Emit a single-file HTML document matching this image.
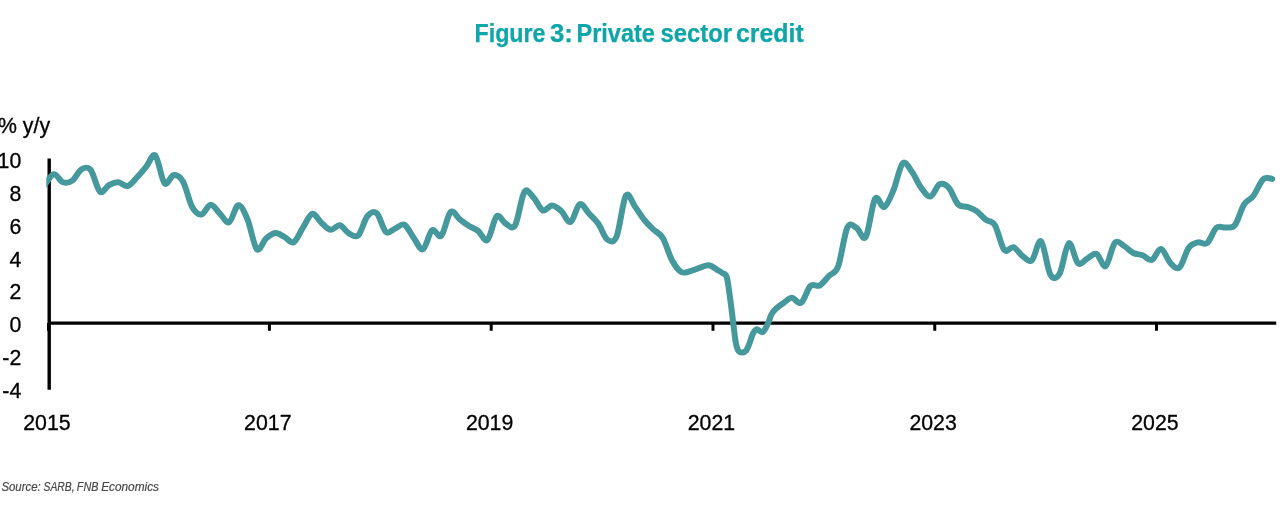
<!DOCTYPE html>
<html lang="en"><head><meta charset="utf-8"><title>Figure 3: Private sector credit</title>
<style>
html,body{margin:0;padding:0;background:#fff;}
body{width:1280px;height:520px;overflow:hidden;position:relative;font-family:"Liberation Sans",Arial,sans-serif;}
svg{position:absolute;left:0;top:0;display:block}
.title{font-weight:bold;font-size:25px;fill:#0fa6aa;stroke:#0fa6aa;stroke-width:0.25px}
.ax text{font-size:21.3px;fill:#000;stroke:#000;stroke-width:0.3px}
.src{font-style:italic;font-size:12.2px;fill:#484848;stroke:#484848;stroke-width:0.2px}
</style></head><body>
<svg width="1280" height="520" viewBox="0 0 1280 520">
<defs><clipPath id="cp"><rect x="46.3" y="140" width="1234" height="240"/></clipPath></defs>
<text class="title" y="41.6"><tspan x="474.50" textLength="71.00" lengthAdjust="spacingAndGlyphs">Figure</tspan> <tspan x="549.90" textLength="22.90" lengthAdjust="spacingAndGlyphs">3:</tspan> <tspan x="576.50" textLength="78.40" lengthAdjust="spacingAndGlyphs">Private</tspan> <tspan x="660.40" textLength="71.60" lengthAdjust="spacingAndGlyphs">sector</tspan> <tspan x="736.00" textLength="67.80" lengthAdjust="spacingAndGlyphs">credit</tspan></text>
<g class="ax">
<text x="-2" y="133.2">% y/y</text>
<text x="21.3" y="168.0" text-anchor="end">10</text><text x="21.3" y="200.8" text-anchor="end">8</text><text x="21.3" y="233.6" text-anchor="end">6</text><text x="21.3" y="266.5" text-anchor="end">4</text><text x="21.3" y="299.3" text-anchor="end">2</text><text x="21.3" y="332.1" text-anchor="end">0</text><text x="21.3" y="364.9" text-anchor="end">-2</text><text x="21.3" y="397.7" text-anchor="end">-4</text>
<text x="46.9" y="430" text-anchor="middle">2015</text><text x="267.8" y="430" text-anchor="middle">2017</text><text x="489.6" y="430" text-anchor="middle">2019</text><text x="711.4" y="430" text-anchor="middle">2021</text><text x="933.1" y="430" text-anchor="middle">2023</text><text x="1154.9" y="430" text-anchor="middle">2025</text>
</g>
<path d="M49.2 160.2V388.15M49.2 323.1H1274.5" stroke="#000" stroke-width="3.4" stroke-linecap="square" fill="none"/>
<rect x="47" y="323" width="2" height="7.8" fill="#000"/>
<path d="M269.40 323V330.8M491.20 323V330.8M713.00 323V330.8M934.75 323V330.8M1156.50 323V330.8" stroke="#000" stroke-width="3" fill="none"/>
<g clip-path="url(#cp)"><path d="M44.57 185.00C47.65 181.40 50.72 174.66 53.80 174.20C56.88 173.74 59.95 181.18 63.03 182.25C66.10 183.32 69.18 182.76 72.25 180.60C75.33 178.44 78.41 171.07 81.48 169.30C84.56 167.53 87.63 166.28 90.71 170.00C93.78 173.72 96.86 189.10 99.94 191.60C103.01 194.10 106.09 186.56 109.16 185.00C112.24 183.44 115.31 182.08 118.39 182.25C121.46 182.42 124.54 186.79 127.62 186.00C130.69 185.21 133.77 180.68 136.84 177.50C139.92 174.32 142.99 170.58 146.07 166.90C149.15 163.22 152.22 152.68 155.30 155.40C158.37 158.12 161.45 179.92 164.52 183.20C167.60 186.48 170.68 175.38 173.75 175.10C176.83 174.82 179.90 176.18 182.98 181.50C186.05 186.82 189.13 201.50 192.20 207.00C195.28 212.50 198.36 214.88 201.43 214.50C204.51 214.12 207.58 204.85 210.66 204.70C213.73 204.55 216.81 210.68 219.89 213.60C222.96 216.52 226.04 223.58 229.11 222.20C232.19 220.82 235.26 205.75 238.34 205.30C241.42 204.85 244.49 212.20 247.57 219.50C250.64 226.80 253.72 245.92 256.79 249.10C259.87 252.28 262.95 241.27 266.02 238.60C269.10 235.93 272.17 233.38 275.25 233.10C278.32 232.82 281.40 235.37 284.48 236.90C287.55 238.43 290.63 243.83 293.70 242.30C296.78 240.77 299.85 232.45 302.93 227.70C306.00 222.95 309.08 214.63 312.16 213.80C315.23 212.97 318.31 220.03 321.38 222.70C324.46 225.37 327.53 229.37 330.61 229.80C333.69 230.23 336.76 224.68 339.84 225.30C342.91 225.92 345.99 231.83 349.06 233.50C352.14 235.17 355.22 238.22 358.29 235.30C361.37 232.38 364.44 219.67 367.52 216.00C370.59 212.33 373.67 210.63 376.75 213.30C379.82 215.97 382.90 229.47 385.97 232.00C389.05 234.53 392.12 229.72 395.20 228.50C398.27 227.28 401.35 223.17 404.43 224.70C407.50 226.23 410.58 233.60 413.65 237.70C416.73 241.80 419.80 250.55 422.88 249.30C425.96 248.05 429.03 232.47 432.11 230.20C435.18 227.93 438.26 238.72 441.33 235.70C444.41 232.68 447.49 214.83 450.56 212.10C453.64 209.37 456.71 216.98 459.79 219.30C462.86 221.62 465.94 224.05 469.02 226.00C472.09 227.95 475.17 228.68 478.24 231.00C481.32 233.32 484.39 242.35 487.47 239.90C490.54 237.45 493.62 218.98 496.70 216.30C499.77 213.62 502.85 222.32 505.92 223.80C509.00 225.28 512.07 230.50 515.15 225.20C518.23 219.90 521.30 196.60 524.38 192.00C527.45 187.40 530.53 194.53 533.60 197.60C536.68 200.67 539.76 209.08 542.83 210.40C545.91 211.72 548.98 205.40 552.06 205.50C555.13 205.60 558.21 208.25 561.28 211.00C564.36 213.75 567.44 223.13 570.51 222.00C573.59 220.87 576.66 205.62 579.74 204.20C582.81 202.78 585.89 210.27 588.97 213.50C592.04 216.73 595.12 219.25 598.19 223.60C601.27 227.95 604.34 237.48 607.42 239.60C610.50 241.72 613.57 243.62 616.65 236.30C619.72 228.98 622.80 200.62 625.87 195.70C628.95 190.78 632.03 202.75 635.10 206.80C638.18 210.85 641.25 216.20 644.33 220.00C647.40 223.80 650.48 226.60 653.55 229.60C656.63 232.60 659.71 232.88 662.78 238.00C665.86 243.12 668.93 254.63 672.01 260.30C675.08 265.97 678.16 270.20 681.24 272.00C684.31 273.80 687.39 271.80 690.46 271.10C693.54 270.40 696.61 268.77 699.69 267.80C702.77 266.83 705.84 264.88 708.92 265.30C711.99 265.72 715.07 268.54 718.14 270.30C719.66 271.17 721.18 271.93 722.70 273.20C724.10 274.37 725.50 272.64 726.90 277.60C728.07 281.74 729.23 292.13 730.40 300.50C731.37 307.43 732.33 315.93 733.30 323.50C734.13 330.03 734.97 338.07 735.80 342.80C736.53 346.97 737.27 349.00 738.00 350.20C739.27 352.27 740.53 352.50 741.80 352.60C743.20 352.71 744.60 352.42 746.00 350.80C747.10 349.52 748.20 346.63 749.30 343.90C750.40 341.17 751.50 336.69 752.60 334.40C753.83 331.83 755.07 329.59 756.30 329.30C758.47 328.79 760.63 333.08 762.80 332.00C764.50 331.15 766.20 326.96 767.90 323.50C769.17 320.92 770.43 316.15 771.70 313.90C773.30 311.05 774.90 309.67 776.50 308.20C779.07 305.84 781.63 304.14 784.20 302.40C786.73 300.68 789.27 297.74 791.80 297.80C794.93 297.87 798.06 304.78 801.19 302.80C804.26 300.85 807.34 288.88 810.41 286.00C813.49 283.12 816.57 287.17 819.64 285.50C822.72 283.83 825.79 279.17 828.87 276.00C831.94 272.83 835.02 274.57 838.10 266.50C841.17 258.43 844.25 234.02 847.32 227.60C850.40 221.18 853.47 226.45 856.55 228.00C859.62 229.55 862.70 241.77 865.78 236.90C868.85 232.03 871.93 203.77 875.00 198.80C878.08 193.83 881.15 208.53 884.23 207.10C887.31 205.67 890.38 197.48 893.46 190.20C896.53 182.92 899.61 166.47 902.68 163.40C905.76 160.33 908.84 167.75 911.91 171.80C914.99 175.85 918.06 183.58 921.14 187.70C924.21 191.82 927.29 197.07 930.37 196.50C933.44 195.93 936.52 185.75 939.59 184.30C942.67 182.85 945.74 184.45 948.82 187.80C951.89 191.15 954.97 201.22 958.05 204.40C961.12 207.58 964.20 205.78 967.27 206.90C970.35 208.02 973.42 208.98 976.50 211.10C979.58 213.22 982.65 217.25 985.73 219.60C988.80 221.95 991.88 220.15 994.95 225.20C998.03 230.25 1001.11 246.23 1004.18 249.90C1007.26 253.57 1010.33 246.17 1013.41 247.20C1016.48 248.23 1019.56 253.92 1022.63 256.10C1025.71 258.28 1028.79 262.77 1031.86 260.30C1034.94 257.83 1038.01 238.93 1041.09 241.30C1044.16 243.67 1047.24 269.08 1050.32 274.50C1053.39 279.92 1056.47 279.00 1059.54 273.80C1062.62 268.60 1065.69 245.05 1068.77 243.30C1071.85 241.55 1074.92 260.75 1078.00 263.30C1081.07 265.85 1084.15 260.17 1087.22 258.60C1090.30 257.03 1093.38 252.65 1096.45 253.90C1099.53 255.15 1102.60 267.97 1105.68 266.10C1108.75 264.23 1111.83 246.05 1114.90 242.70C1117.98 239.35 1121.06 244.28 1124.13 246.00C1127.21 247.72 1130.28 251.45 1133.36 253.00C1136.43 254.55 1139.51 254.15 1142.59 255.30C1145.66 256.45 1148.74 260.97 1151.81 259.90C1154.89 258.83 1157.96 248.42 1161.04 248.90C1164.12 249.38 1167.19 259.70 1170.27 262.80C1173.34 265.90 1176.42 270.02 1179.49 267.50C1182.57 264.98 1185.65 251.88 1188.72 247.70C1191.80 243.52 1194.87 243.18 1197.95 242.40C1201.02 241.62 1204.10 245.43 1207.17 243.00C1210.25 240.57 1213.33 230.38 1216.40 227.80C1219.48 225.22 1222.55 227.93 1225.63 227.50C1228.70 227.07 1231.78 229.05 1234.86 225.20C1237.93 221.35 1241.01 209.27 1244.08 204.40C1247.16 199.53 1250.23 200.10 1253.31 196.00C1256.39 191.90 1259.46 183.73 1262.54 179.80C1264.16 177.73 1265.78 178.15 1267.40 178.00C1269.02 177.85 1270.64 178.60 1272.26 178.90" stroke="#45989b" stroke-width="6" stroke-linecap="round" stroke-linejoin="round" fill="none"/></g>
<text class="src" y="491"><tspan x="1.40" textLength="39.40" lengthAdjust="spacingAndGlyphs">Source:</tspan> <tspan x="43.60" textLength="31.00" lengthAdjust="spacingAndGlyphs">SARB,</tspan> <tspan x="76.80" textLength="21.60" lengthAdjust="spacingAndGlyphs">FNB</tspan> <tspan x="101.20" textLength="57.80" lengthAdjust="spacingAndGlyphs">Economics</tspan></text>
</svg>
</body></html>
